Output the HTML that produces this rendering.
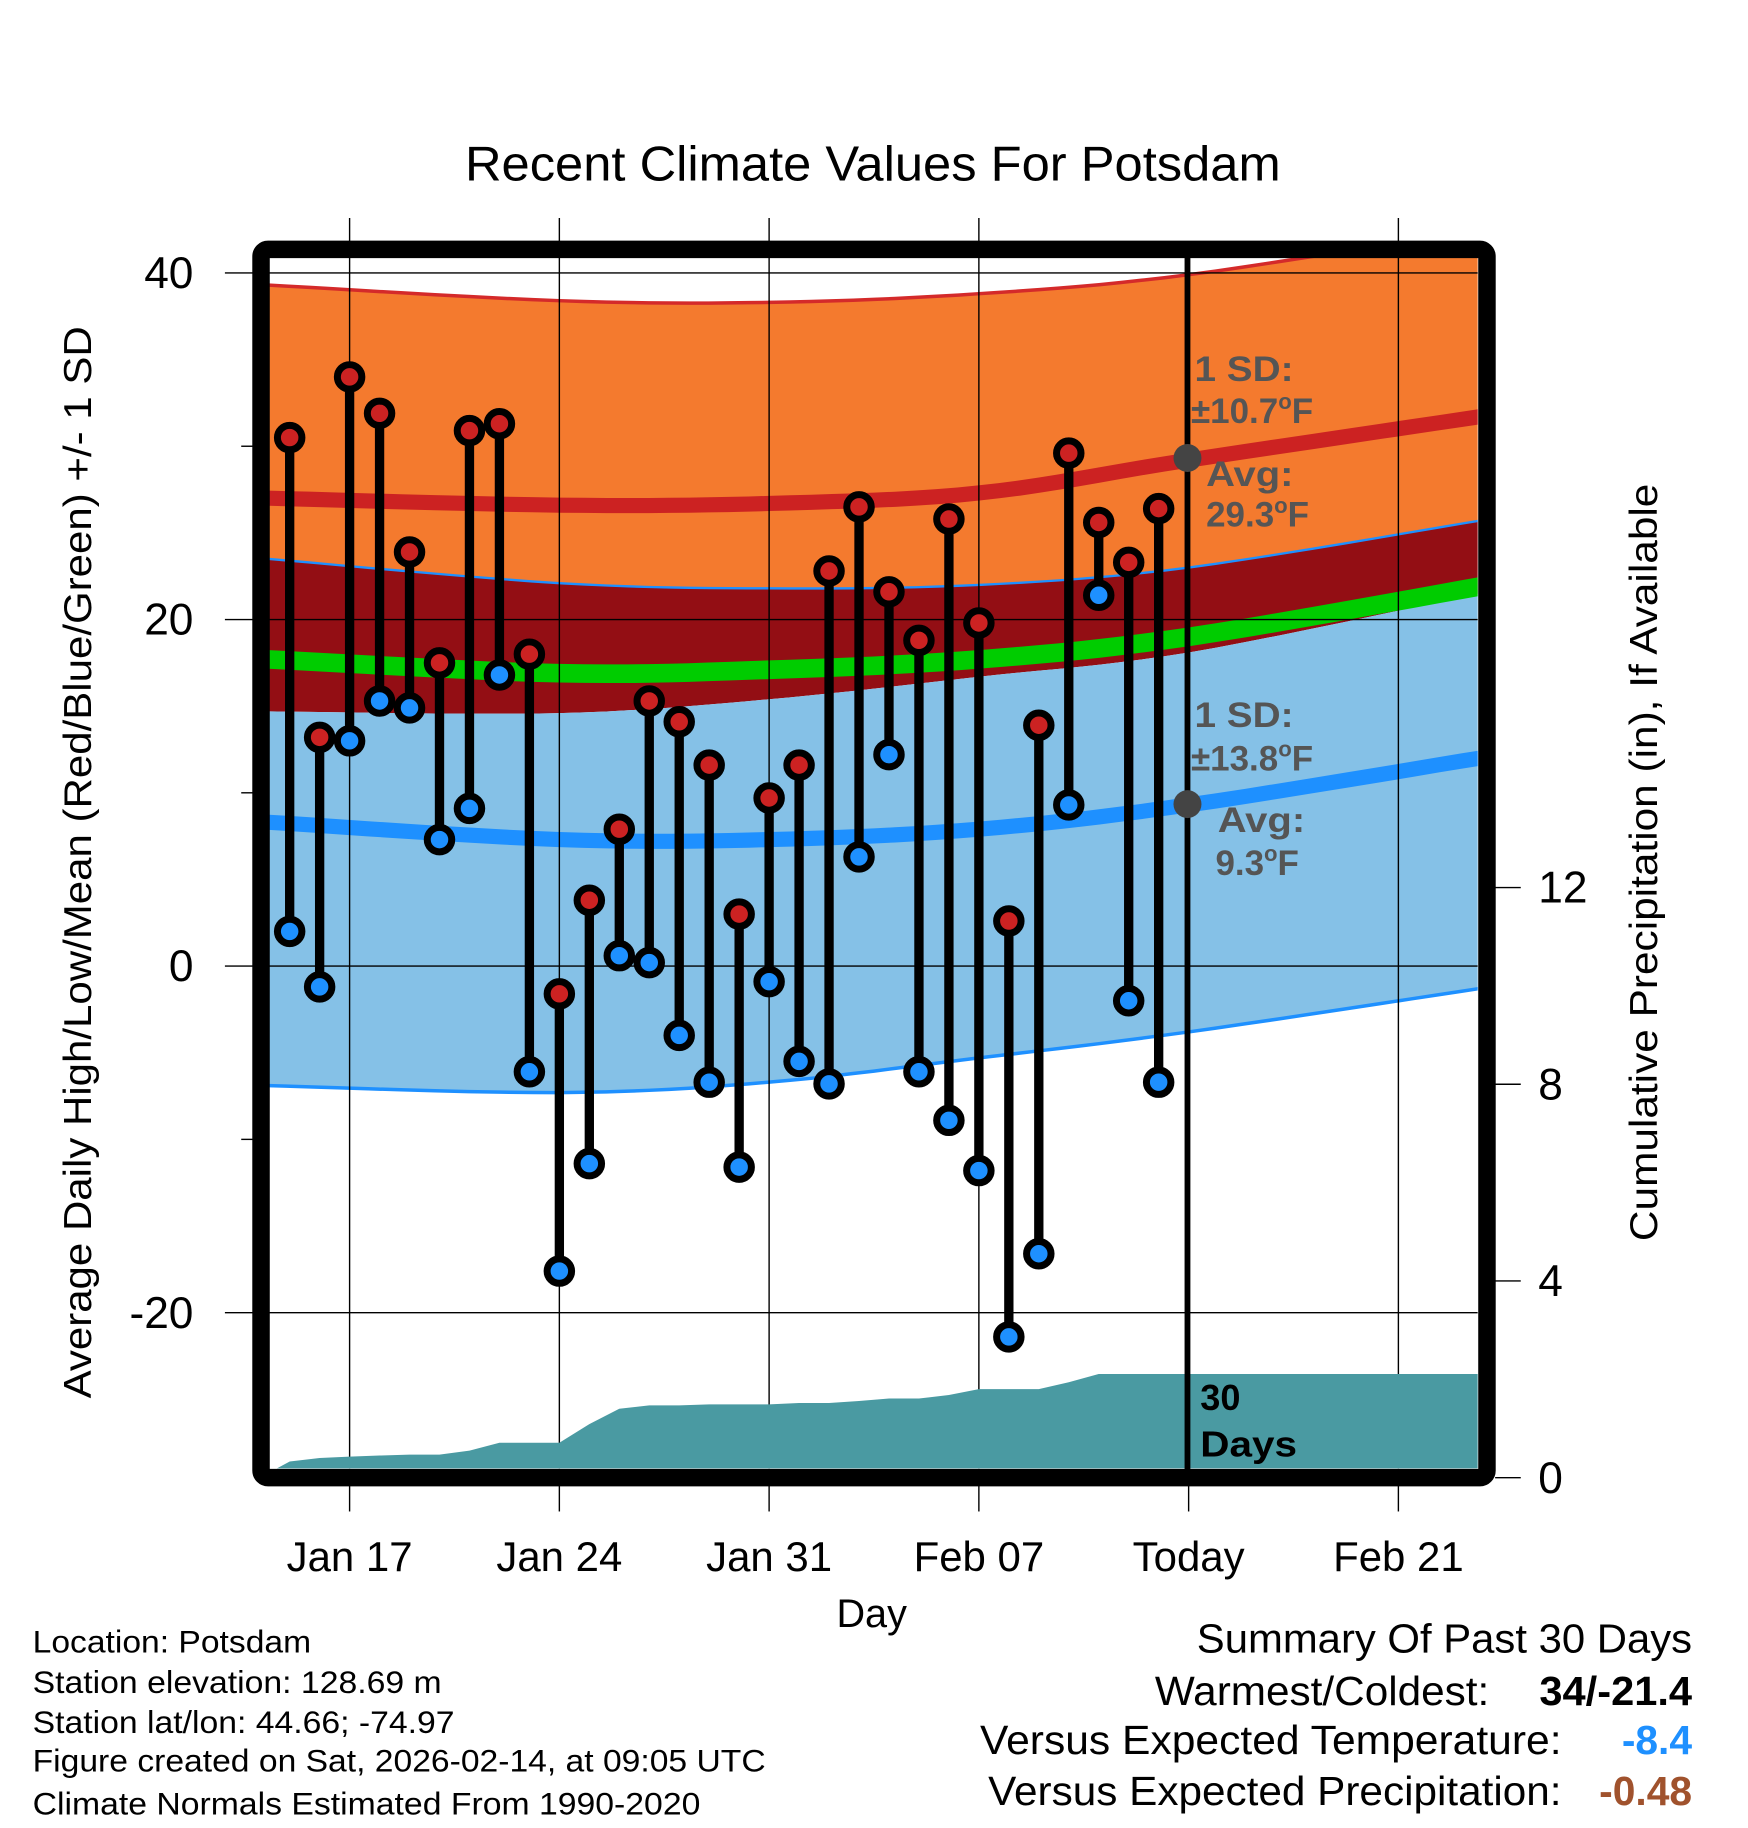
<!DOCTYPE html>
<html><head><meta charset="utf-8"><style>
html,body{margin:0;padding:0;background:#fff}
svg{display:block;font-family:"Liberation Sans",Arial,sans-serif}
</style></head><body>
<svg id="chart" width="1748" height="1828" viewBox="0 0 1500 1568.6" xmlns="http://www.w3.org/2000/svg">
<defs><clipPath id="plotclip"><rect x="231" y="220" width="1037" height="1040"/></clipPath></defs>
<rect width="1500" height="1568.6" fill="#fff"/>
<text x="399" y="155" font-size="42" textLength="700" lengthAdjust="spacingAndGlyphs">Recent Climate Values For Potsdam</text>
<g id="bands" clip-path="url(#plotclip)"></g>
<g id="grid"></g>
<g id="precip" clip-path="url(#plotclip)"></g>
<g id="marks"></g>
<g id="annot">
 <line x1="1019" y1="220" x2="1019" y2="1262" stroke="#000" stroke-width="5"/>
 <circle cx="1019" cy="393" r="12" fill="#444"/>
 <circle cx="1019" cy="690" r="12" fill="#444"/>
 <g font-weight="bold" font-size="30" fill="#555">
  <text x="1025" y="327" textLength="85" lengthAdjust="spacingAndGlyphs">1 SD:</text>
  <text x="1022" y="363">±10.7<tspan font-size="19" dy="-12">o</tspan><tspan dy="12">F</tspan></text>
  <text x="1035" y="417" textLength="75" lengthAdjust="spacingAndGlyphs">Avg:</text>
  <text x="1035" y="452">29.3<tspan font-size="19" dy="-12">o</tspan><tspan dy="12">F</tspan></text>
  <text x="1025" y="624" textLength="85" lengthAdjust="spacingAndGlyphs">1 SD:</text>
  <text x="1022" y="661">±13.8<tspan font-size="19" dy="-12">o</tspan><tspan dy="12">F</tspan></text>
  <text x="1045" y="714" textLength="75" lengthAdjust="spacingAndGlyphs">Avg:</text>
  <text x="1043" y="751">9.3<tspan font-size="19" dy="-12">o</tspan><tspan dy="12">F</tspan></text>
 </g>
 <text x="1030" y="1210" font-size="31" font-weight="bold" fill="#000">30</text>
 <text x="1030" y="1250" font-size="31" font-weight="bold" fill="#000" textLength="83" lengthAdjust="spacingAndGlyphs">Days</text>
</g>
<rect x="224" y="214" width="1052" height="1054" rx="6" fill="none" stroke="#000" stroke-width="15"/>
<g id="axes"></g>
<text transform="translate(78,740) rotate(-90)" font-size="33" text-anchor="middle" textLength="920" lengthAdjust="spacingAndGlyphs">Average Daily High/Low/Mean (Red/Blue/Green) +/- 1 SD</text>
<text transform="translate(1422,740) rotate(-90)" font-size="33" text-anchor="middle" textLength="650" lengthAdjust="spacingAndGlyphs">Cumulative Precipitation (in), If Available</text>
<text x="748" y="1396" font-size="34" text-anchor="middle">Day</text>
<g font-size="27">
 <text x="28" y="1418" textLength="239" lengthAdjust="spacingAndGlyphs">Location: Potsdam</text>
 <text x="28" y="1453" textLength="351" lengthAdjust="spacingAndGlyphs">Station elevation: 128.69 m</text>
 <text x="28" y="1487" textLength="362" lengthAdjust="spacingAndGlyphs">Station lat/lon: 44.66; -74.97</text>
 <text x="28" y="1520" textLength="629" lengthAdjust="spacingAndGlyphs">Figure created on Sat, 2026-02-14, at 09:05 UTC</text>
 <text x="28" y="1557" textLength="573" lengthAdjust="spacingAndGlyphs">Climate Normals Estimated From 1990-2020</text>
</g>
<g font-size="35">
 <text x="1027" y="1418" textLength="425" lengthAdjust="spacingAndGlyphs">Summary Of Past 30 Days</text>
 <text x="991" y="1463" textLength="287" lengthAdjust="spacingAndGlyphs">Warmest/Coldest:</text>
 <text x="1321" y="1463" font-weight="bold" textLength="131" lengthAdjust="spacingAndGlyphs">34/-21.4</text>
 <text x="841" y="1505" textLength="499" lengthAdjust="spacingAndGlyphs">Versus Expected Temperature:</text>
 <text x="1452" y="1505" text-anchor="end" font-weight="bold" fill="#1e90ff">-8.4</text>
 <text x="848" y="1549" textLength="492" lengthAdjust="spacingAndGlyphs">Versus Expected Precipitation:</text>
 <text x="1452" y="1549" text-anchor="end" font-weight="bold" fill="#a0522d">-0.48</text>
</g>
</svg>
<script>
// ---- data ----
const highs = [30.5,13.2,34.0,31.9,23.9,17.5,30.9,31.3,18.0,-1.6,3.8,7.9,15.3,14.1,11.6,3.0,9.7,11.6,22.8,26.5,21.6,18.8,25.8,19.8,2.6,13.9,29.6,25.6,23.3,26.4];
const lows  = [2.0,-1.2,13.0,15.3,14.9,7.3,9.1,16.8,-6.1,-17.6,-11.4,0.6,0.2,-4.0,-6.7,-11.6,-0.9,-5.5,-6.8,6.3,12.2,-6.1,-8.9,-11.8,-21.4,-16.6,9.3,21.4,-2.0,-6.7];
const normDays  = [0.3,10,17,24,31,40.7];
const highUpper = [39.3,38.4,38.3,38.8,39.9,42.5];
const highAvg   = [27.0,26.6,26.7,27.3,29.2,31.7];
const highLower = [23.5,22.1,21.8,22.0,23.0,25.7];
const meanAvg   = [17.7,16.9,17.1,17.7,19.0,21.9];
const lowUpper  = [14.7,14.6,15.4,16.7,18.1,21.5];
const lowAvg    = [8.3,7.3,7.3,7.9,9.3,12.0];
const lowLower  = [-6.9,-7.3,-6.7,-5.3,-3.8,-1.3];
const precip = [0,0.33,0.40,0.43,0.45,0.47,0.47,0.55,0.71,0.71,0.71,1.09,1.40,1.47,1.47,1.49,1.49,1.49,1.52,1.52,1.56,1.61,1.61,1.68,1.80,1.80,1.80,1.94,2.11,2.11,2.11];
const yTicks = [40,20,0,-20];
const yMinor = [30,10,-10];
const pTicks = [0,4,8,12];
const xTickDays = [3,10,17,24,31,38];
const xTickLabels = ["Jan 17","Jan 24","Jan 31","Feb 07","Today","Feb 21"];

// ---- scales ----
const X = d => 300 + (d-3)*25.714;
const Y = v => 829 - v*14.87;
const P = p => 1268 - p*42.2;
const NS = "http://www.w3.org/2000/svg";
function mk(tag, attrs, parent){const e=document.createElementNS(NS,tag);for(const k in attrs)e.setAttribute(k,attrs[k]);parent.appendChild(e);return e;}

function curvePts(vals){
  const pts=[];
  for(let i=0;i<normDays.length-1;i++){
    const d0=normDays[Math.max(i-1,0)],d1=normDays[i],d2=normDays[i+1],d3=normDays[Math.min(i+2,normDays.length-1)];
    const v0=vals[Math.max(i-1,0)],v1=vals[i],v2=vals[i+1],v3=vals[Math.min(i+2,vals.length-1)];
    for(let s=0;s<10;s++){const t=s/10,t2=t*t,t3=t2*t;
      const f=(a,b,c,d)=>0.5*((2*b)+(-a+c)*t+(2*a-5*b+4*c-d)*t2+(-a+3*b-3*c+d)*t3);
      pts.push([X(f(d0,d1,d2,d3)),Y(f(v0,v1,v2,v3))]);}
  }
  pts.push([X(normDays[normDays.length-1]),Y(vals[vals.length-1])]);
  return pts;
}
const line = pts => pts.map((p,i)=>(i?'L':'M')+p[0].toFixed(1)+','+p[1].toFixed(1)).join(' ');
function band(upper,lower,fill,name){
  const a=curvePts(upper),b=curvePts(lower).reverse();
  const e=mk('path',{d:line(a)+' '+line(b).replace('M','L')+' Z',fill:fill},bands);
  
  
}
const bands=document.getElementById('bands');
band(highUpper,highLower,'#f47a2e','high-sd-band');
band(highLower,lowUpper,'#930e14','overlap-band');
band(lowUpper,lowLower,'#85c1e7','low-sd-band');
function stroke(vals,color,w,name){
  const e=mk('path',{d:line(curvePts(vals)),fill:'none',stroke:color,'stroke-width':w},bands);
  
  
}
stroke(highUpper,'#d42a2a',3,'high-upper-line');
stroke(highLower,'#1e90ff',2,'high-lower-line');
stroke(lowLower,'#1e90ff',3,'low-lower-line');
stroke(meanAvg,'#00cc00',16,'mean-avg-line');
stroke(highAvg,'#cc2222',13,'high-avg-line');
stroke(lowAvg,'#1e90ff',13,'low-avg-line');

// grid & ticks
const grid=document.getElementById('grid'), axes=document.getElementById('axes');
yTicks.forEach(v=>{
  const g=mk('line',{x1:193,x2:1268,y1:Y(v),y2:Y(v),stroke:'#000','stroke-width':1.2},grid);
  
  
  const t=mk('text',{x:166,y:Y(v)+13,'font-size':38,'text-anchor':'end'},axes);
  t.textContent=v;
  
  
});
yMinor.forEach(v=>{
  const g=mk('line',{x1:207,x2:218,y1:Y(v),y2:Y(v),stroke:'#000','stroke-width':1.2},axes);
  
  
});
pTicks.forEach(p=>{
  const g=mk('line',{x1:1283,x2:1305,y1:P(p),y2:P(p),stroke:'#000','stroke-width':1.2},axes);
  
  
  const t=mk('text',{x:1320,y:P(p)+13,'font-size':38},axes);
  t.textContent=p;
  
  
});
xTickDays.forEach((d,i)=>{
  if(i!==4){
    const g=mk('line',{x1:X(d),x2:X(d),y1:187,y2:1260,stroke:'#000','stroke-width':1.2},grid);
    
    
  }
  const g2=mk('line',{x1:X(d),x2:X(d),y1:1275,y2:1297,stroke:'#000','stroke-width':1.2},axes);
  
  
  const t=mk('text',{x:X(d),y:1348,'font-size':36,'text-anchor':'middle'},axes);
  t.textContent=xTickLabels[i];
  
  
});

// precipitation
const pg=document.getElementById('precip');
let pd='M'+X(0)+','+P(0);
precip.forEach((p,i)=>{pd+=' L'+X(i).toFixed(1)+','+P(p).toFixed(1);});
pd+=' L1270,'+P(precip[precip.length-1]).toFixed(1)+' L1270,1268 Z';
const pe=mk('path',{d:pd,fill:'#4a9aa2'},pg);



// daily high/low
const mg=document.getElementById('marks');
highs.forEach((h,i)=>{
  const d=i+1,x=X(d);
  const s=mk('line',{x1:x,x2:x,y1:Y(h),y2:Y(lows[i]),stroke:'#000','stroke-width':8},mg);
  
  
});
highs.forEach((h,i)=>{
  const x=X(i+1);
  const c1=mk('circle',{cx:x,cy:Y(h),r:10.5,fill:'#cc2222',stroke:'#000','stroke-width':6},mg);
  
  
  const c2=mk('circle',{cx:x,cy:Y(lows[i]),r:10.5,fill:'#1e90ff',stroke:'#000','stroke-width':6},mg);
  
  
});
</script>
</body></html>
